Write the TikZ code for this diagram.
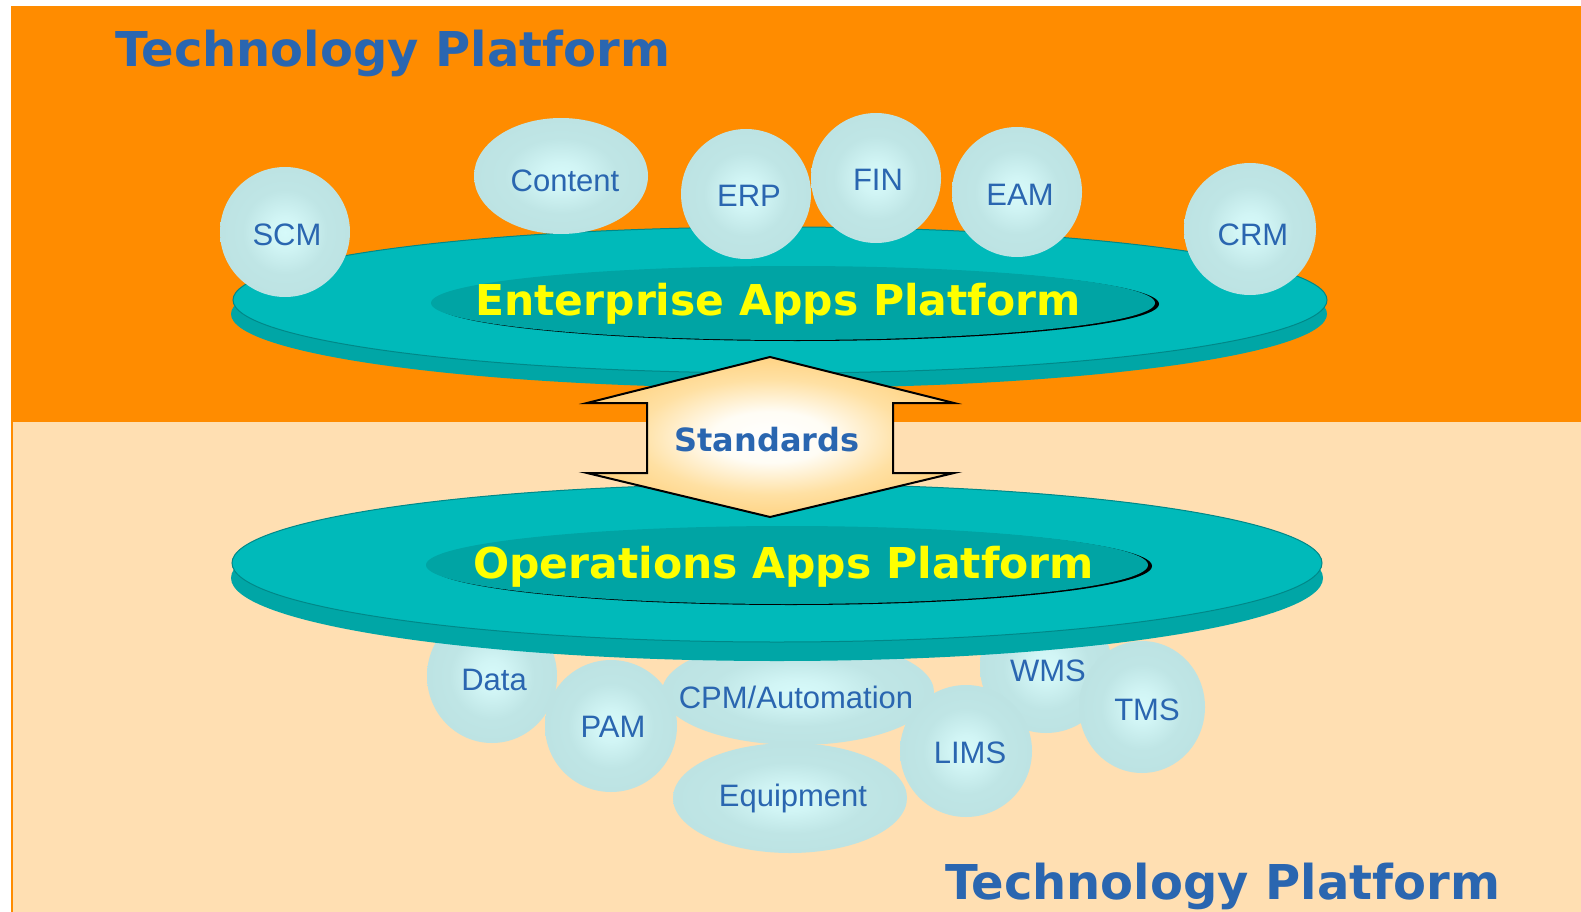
\documentclass[tikz,border=0pt]{standalone}
\usepackage{fontspec}
\usetikzlibrary{shapes.geometric}
\newfontfamily\dvfont{DejaVu Sans}
\newfontfamily\lsfont{Liberation Sans}
\definecolor{bgorange}{RGB}{255,140,0}
\definecolor{bgbeige}{RGB}{255,223,178}
\definecolor{tblue}{RGB}{42,102,176}
\definecolor{diskA}{RGB}{0,186,186}
\definecolor{diskB}{RGB}{0,166,166}
\definecolor{diskIn}{RGB}{0,164,164}
\definecolor{diskLine}{RGB}{0,136,136}
\definecolor{ylw}{RGB}{255,255,0}
\pgfdeclareradialshading{bubbleshade}{\pgfpoint{0bp}{0bp}}{rgb(0bp)=(0.84,0.98,0.98); rgb(6bp)=(0.82,0.96,0.96); rgb(16bp)=(0.75,0.90,0.90); rgb(25bp)=(0.74,0.89,0.89); rgb(50bp)=(0.74,0.89,0.89)}
\pgfdeclareradialshading{arrowshade}{\pgfpoint{0bp}{0bp}}{rgb(0bp)=(1,1,1); rgb(8bp)=(1,0.99,0.96); rgb(18bp)=(1,0.88,0.64); rgb(25bp)=(1,0.83,0.52); rgb(50bp)=(1,0.83,0.52)}
\tikzset{
  bubble/.style={ellipse, shading=bubbleshade, inner sep=0pt, outer sep=0pt},
  btext/.style={anchor=base, font=\lsfont\fontsize{31}{31}\selectfont, text=tblue, inner sep=0pt},
  titletext/.style={anchor=base west, font=\dvfont\bfseries\fontsize{48}{48}\selectfont, text=tblue, inner sep=0pt},
  disktext/.style={anchor=base west, font=\dvfont\bfseries\fontsize{42.5}{42.5}\selectfont, text=ylw, inner sep=0pt},
  stdtext/.style={anchor=base, font=\dvfont\bfseries\fontsize{32}{32}\selectfont, text=tblue, inner sep=0pt},
  disklower/.style={fill=diskB},
  diskupper/.style={fill=diskA, draw=diskLine, line width=1pt},
  diskinner/.style={fill=diskIn},
}
\begin{document}
\begin{tikzpicture}[x=1pt,y=-1pt]
\useasboundingbox (0,0) rectangle (1581,912);
\fill[white] (0,0) rectangle (1581,912);
\fill[bgorange] (11,6) rectangle (1581,912);
\fill[bgbeige] (13,422) rectangle (1581,912);

% titles
\node[titletext] (ttop) at (115,67) {Technology Platform};
\node[titletext] (tbot) at (945,899) {Technology Platform};

% bottom bubbles
\node[bubble, minimum width=130pt, minimum height=134pt] (data) at (492,676) {};
\node[bubble, minimum width=132pt, minimum height=132pt] (wms) at (1046,667) {};
\node[bubble, minimum width=272pt, minimum height=106pt] (cpm) at (798,692) {};
\node[bubble, minimum width=132pt, minimum height=132pt] (pam) at (611,726) {};
\node[bubble, minimum width=234pt, minimum height=110pt] (equip) at (790,798) {};
\node[bubble, minimum width=132pt, minimum height=132pt] (lims) at (966,751) {};
\node[bubble, minimum width=126pt, minimum height=132pt] (tms) at (1142,707) {};
\node[btext] (datat) at (494,690) {Data};
\node[btext] (pamt) at (613,737) {PAM};
\node[btext] (cpmt) at (796,708) {CPM/Automation};
\node[btext] (equipt) at (793,806) {Equipment};
\node[btext] (limst) at (970,763) {LIMS};
\node[btext] (wmst) at (1048,681) {WMS};
\node[btext] (tmst) at (1147,720) {TMS};

% operations disk
\fill[disklower] (777,578) ellipse [x radius=546, y radius=83];
\path[diskupper] (777,563) ellipse [x radius=545, y radius=79];
\fill[black] (791,566) ellipse [x radius=361, y radius=39];
\fill[diskinner] (787,565) ellipse [x radius=361, y radius=39];
\node[disktext] (ops) at (473,578) {Operations Apps Platform};

% enterprise disk
\fill[disklower] (779,314) ellipse [x radius=548, y radius=74];
\path[diskupper] (780,300) ellipse [x radius=547, y radius=73];
\fill[black] (797,304) ellipse [x radius=362, y radius=37];
\fill[diskinner] (793,303) ellipse [x radius=362, y radius=37];
\node[disktext] (ent) at (475,315) {Enterprise Apps Platform};

% top bubbles
\node[bubble, minimum width=130pt, minimum height=130pt] (scm) at (285,232) {};
\node[bubble, minimum width=174pt, minimum height=116pt] (content) at (561,176) {};
\node[bubble, minimum width=130pt, minimum height=130pt] (erp) at (746,194) {};
\node[bubble, minimum width=130pt, minimum height=130pt] (fin) at (876,178) {};
\node[bubble, minimum width=130pt, minimum height=130pt] (eam) at (1017,192) {};
\node[bubble, minimum width=132pt, minimum height=132pt] (crm) at (1250,229) {};
\node[btext] (scmt) at (287,245) {SCM};
\node[btext] (contentt) at (565,192) {Content};
\node[btext] (erpt) at (749,207) {ERP};
\node[btext] (fint) at (878,190) {FIN};
\node[btext] (eamt) at (1020,205) {EAM};
\node[btext] (crmt) at (1253,245) {CRM};

% standards arrow
\shadedraw[shading=arrowshade, draw=black, line width=2pt, line join=miter]
  (770,357) -- (954,403) -- (893,403) -- (893,473) -- (954,473) -- (770,517)
  -- (587,473) -- (647,473) -- (647,403) -- (587,403) -- cycle;
\node[stdtext] (std) at (767,451) {Standards};
\end{tikzpicture}
\end{document}
